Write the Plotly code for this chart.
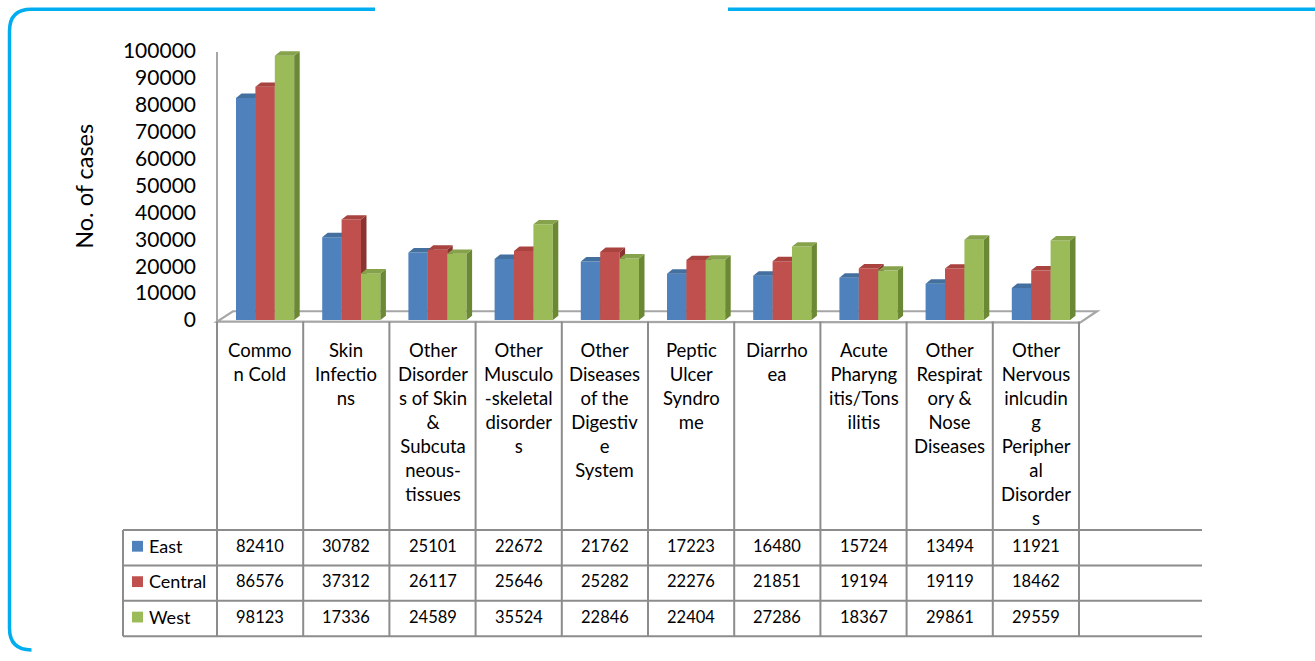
import plotly.graph_objects as go

# ---------------- data ----------------
categories = [
    "Common Cold", "Skin Infections",
    "Other Disorders of Skin & Subcutaneous-tissues",
    "Other Musculo-skeletal disorders",
    "Other Diseases of the Digestive System",
    "Peptic Ulcer Syndrome", "Diarrhoea", "Acute Pharyngitis/Tonsilitis",
    "Other Respiratory & Nose Diseases",
    "Other Nervous inlcuding Peripheral Disorders",
]
category_labels = [
    "Commo<br>n Cold",
    "Skin<br>Infectio<br>ns",
    "Other<br>Disorder<br>s of Skin<br>&<br>Subcuta<br>neous-<br>tissues",
    "Other<br>Musculo<br>-skeletal<br>disorder<br>s",
    "Other<br>Diseases<br>of the<br>Digestiv<br>e<br>System",
    "Peptic<br>Ulcer<br>Syndro<br>me",
    "Diarrho<br>ea",
    "Acute<br>Pharyng<br>itis/Tons<br>ilitis",
    "Other<br>Respirat<br>ory &<br>Nose<br>Diseases",
    "Other<br>Nervous<br>inlcudin<br>g<br>Peripher<br>al<br>Disorder<br>s",
]
series_names = ["East", "Central", "West"]
east = [82410, 30782, 25101, 22672, 21762, 17223, 16480, 15724, 13494, 11921]
central = [86576, 37312, 26117, 25646, 25282, 22276, 21851, 19194, 19119, 18462]
west = [98123, 17336, 24589, 35524, 22846, 22404, 27286, 18367, 29861, 29559]
y_tick_values = [0, 10000, 20000, 30000, 40000, 50000, 60000, 70000, 80000, 90000, 100000]
y_title = "No. of cases"

# ---------------- styling / layout constants ----------------
W, H = 1315, 661
FONT = "Lato, 'Open Sans', sans-serif"
front_colors = ["#4F81BD", "#C0504D", "#9BBB59"]
top_colors = ["#44709F", "#A8433F", "#86A34B"]
side_colors = ["#355A87", "#8A3331", "#6B8835"]
GRID = "#8C8C8C"
BORDER = "#00AEEF"

PLOT_L, PLOT_R = 217.0, 1079.0        # pixel x of category band
BASE_Y = 325.5                         # pixel y of value 0
PX_PER_UNIT = 0.00274                  # pixels per case
Y_MAX = 106000
TOP_Y = BASE_Y - Y_MAX * PX_PER_UNIT
n_cat = len(categories)
COL_W = (PLOT_R - PLOT_L) / n_cat

BAR_W = 19.4 / COL_W                   # bar width in category units
CLUSTER_SHIFT = 5.0 / COL_W
DX = 5.5 / COL_W                       # 3-D depth (x)
DY = 4.5 / PX_PER_UNIT                 # 3-D depth (y)


def px(x):
    return x / W


def py(y):
    return 1 - y / H


series_values = [east, central, west]

fig = go.Figure()

for j, (name, vals) in enumerate(zip(series_names, series_values)):
    ax = "" if j == 0 else str(j + 1)
    centers = [i + CLUSTER_SHIFT + (j - 1) * BAR_W for i in range(n_cat)]
    fig.add_trace(go.Bar(
        x=centers, y=vals, width=BAR_W, name=name,
        marker=dict(color=front_colors[j], line=dict(width=0)),
        xaxis="x" + ax, yaxis="y" + ax, showlegend=False,
        customdata=categories,
        hovertemplate="%{customdata}<br>" + name + ": %{y}<extra></extra>",
    ))
    sx, sy, tx, ty = [], [], [], []
    for c, v in zip(centers, vals):
        xl, xr = c - BAR_W / 2, c + BAR_W / 2
        sx += [xr, xr + DX, xr + DX, xr, xr, None]
        sy += [0, DY, v + DY, v, 0, None]
        tx += [xl, xl + DX, xr + DX, xr, xl, None]
        ty += [v, v + DY, v + DY, v, v, None]
    fig.add_trace(go.Scatter(
        x=sx, y=sy, fill="toself", fillcolor=side_colors[j], mode="lines",
        line=dict(width=0, color=side_colors[j]), hoverinfo="skip",
        xaxis="x" + ax, yaxis="y" + ax, showlegend=False))
    fig.add_trace(go.Scatter(
        x=tx, y=ty, fill="toself", fillcolor=top_colors[j], mode="lines",
        line=dict(width=0, color=top_colors[j]), hoverinfo="skip",
        xaxis="x" + ax, yaxis="y" + ax, showlegend=False))

x_dom = [px(PLOT_L), px(PLOT_R)]
y_dom = [py(BASE_Y), py(TOP_Y)]
hidden_x = dict(visible=False, range=[-0.5, n_cat - 0.5], domain=x_dom, fixedrange=True)
hidden_y = dict(visible=False, range=[0, Y_MAX], domain=y_dom, fixedrange=True)

shapes = []
# outer rounded border
r = 22
bx, by = 9.5, 9.5
shapes.append(dict(
    type="path", xref="paper", yref="paper", layer="above",
    path=(f"M {px(375)},{py(by)} L {px(bx + r)},{py(by)} "
          f"Q {px(bx)},{py(by)} {px(bx)},{py(by + r)} "
          f"L {px(bx)},{py(H - r)} Q {px(bx)},{py(H)} {px(bx + r)},{py(H)}"),
    line=dict(color=BORDER, width=3.5)))
shapes.append(dict(type="line", xref="paper", yref="paper",
                   x0=px(728), x1=1, y0=py(by), y1=py(by),
                   line=dict(color=BORDER, width=3.5)))
# floor
shapes.append(dict(
    type="path", xref="paper", yref="paper", layer="below",
    path=(f"M {px(PLOT_L)},{py(327)} L {px(PLOT_R + 1)},{py(328)} "
          f"L {px(1097)},{py(316.5)} L {px(233)},{py(316.5)} Z"),
    fillcolor="#FFFFFF", line=dict(color="#A6A6A6", width=2.2)))
# value axis line
shapes.append(dict(type="line", xref="paper", yref="paper",
                   x0=px(PLOT_L), x1=px(PLOT_L), y0=py(53), y1=py(327),
                   line=dict(color="#A6A6A6", width=2)))
# data table
row_lines = [539, 575, 611, 647]
for k in range(n_cat + 1):
    xk = PLOT_L + k * COL_W
    shapes.append(dict(type="line", xref="paper", yref="paper",
                       x0=px(xk), x1=px(xk), y0=py(327), y1=py(row_lines[-1]),
                       line=dict(color=GRID, width=2)))
for yl in row_lines:
    shapes.append(dict(type="line", xref="paper", yref="paper",
                       x0=px(123), x1=px(1202), y0=py(yl), y1=py(yl),
                       line=dict(color=GRID, width=2)))
shapes.append(dict(type="line", xref="paper", yref="paper",
                   x0=px(123), x1=px(123), y0=py(row_lines[0]), y1=py(row_lines[-1]),
                   line=dict(color=GRID, width=2)))

annotations = []
# value-axis title
annotations.append(dict(
    x=px(84), xref="paper", y=py(190), yref="paper", text=y_title,
    textangle=-90, showarrow=False, xanchor="center", yanchor="middle",
    font=dict(family=FONT, size=23.5, color="#000000")))
for i, lab in enumerate(category_labels):
    annotations.append(dict(
        x=i, xref="x", y=py(343), yref="paper", text=lab, showarrow=False,
        xanchor="center", yanchor="top", align="center",
        font=dict(family=FONT, size=18.5, color="#000000")))
for j, (name, vals) in enumerate(zip(series_names, series_values)):
    yc = (row_lines[j] + row_lines[j + 1]) / 2 - 2
    shapes.append(dict(type="rect", xref="paper", yref="paper",
                       x0=px(132), x1=px(143), y0=py(yc - 5), y1=py(yc + 6),
                       fillcolor=front_colors[j], line=dict(width=0)))
    annotations.append(dict(
        x=px(147), xref="paper", y=py(yc), yref="paper", text=name,
        showarrow=False, xanchor="left", yanchor="middle",
        font=dict(family=FONT, size=18, color="#000000")))
    for i, v in enumerate(vals):
        annotations.append(dict(
            x=i, xref="x", y=py(yc), yref="paper", text=str(v),
            showarrow=False, xanchor="center", yanchor="middle",
            font=dict(family=FONT, size=16.5, color="#000000")))

fig.update_layout(
    width=W, height=H, autosize=False,
    margin=dict(l=0, r=0, t=0, b=0),
    paper_bgcolor="#FFFFFF", plot_bgcolor="rgba(0,0,0,0)",
    barmode="overlay", showlegend=False,
    font=dict(family=FONT, color="#000000"),
    xaxis=dict(visible=False, range=[-0.5, n_cat - 0.5], domain=x_dom, fixedrange=True),
    yaxis=dict(range=[0, Y_MAX], domain=y_dom, tickvals=y_tick_values,
               ticktext=[str(v) for v in y_tick_values],
               showgrid=False, zeroline=False, showline=False, ticks="",
               ticklabelstandoff=20, tickfont=dict(family=FONT, size=21, color="#000000"),
               fixedrange=True),
    xaxis2=dict(hidden_x, overlaying="x", matches="x"),
    yaxis2=dict(hidden_y, overlaying="y", matches="y"),
    xaxis3=dict(hidden_x, overlaying="x", matches="x"),
    yaxis3=dict(hidden_y, overlaying="y", matches="y"),
    shapes=shapes, annotations=annotations,
)

fig.write_html(
    "out.html",
    config={"displayModeBar": False},
    post_script=("document.body.style.margin='0';"
                 "document.body.style.overflow='hidden';"
                 "document.documentElement.style.overflow='hidden';"),
)
